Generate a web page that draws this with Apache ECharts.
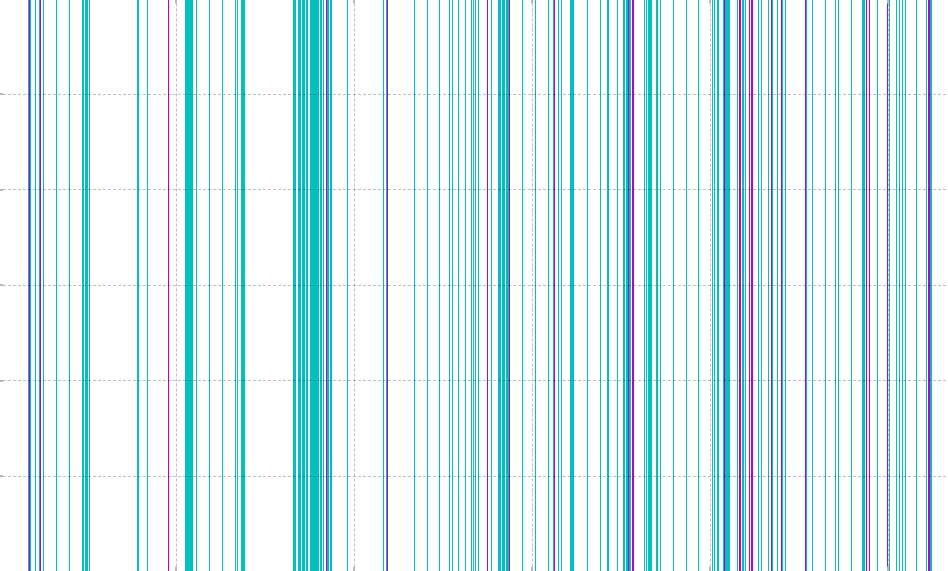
<!DOCTYPE html>
<html>
<head>
<meta charset="utf-8">
<script src="https://cdn.jsdelivr.net/npm/echarts@6/dist/echarts.min.js"></script>
<style>
html,body{margin:0;padding:0;background:#fff;}
#chart{width:948px;height:571px;}
</style>
</head>
<body>
<div id="chart"></div>
<script>
// Event positions (x units) — cyan series
const cyanEvents = [
  30, 32, 37, 41, 45, 58, 71, 84, 85, 87, 88, 89, 91, 139, 140, 149,
  187, 188, 189, 190, 191, 192, 193, 194, 198, 211, 224, 237, 239, 243, 244, 245, 246,
  295, 296, 297, 300, 301, 302, 304, 305, 306, 308, 309,
  312, 313, 314, 315, 316, 317, 318, 319, 320, 322, 323, 325, 329, 330, 332, 333, 349, 385, 388,
  416, 429, 441, 451, 454, 460, 467, 473, 475, 477, 480, 493,
  500, 501, 502, 504, 505, 506, 508, 509, 510,
  524, 537, 550, 555, 560, 563, 572, 573, 574, 575, 589, 602, 609, 610, 619,
  625, 626, 628, 629, 631, 632,
  646, 648, 650, 651, 652, 653, 658, 659, 662, 675, 688, 700,
  714, 716, 719, 720, 725, 727, 728, 729, 730, 731, 739, 744, 745, 747,
  760, 763, 770, 774, 779, 784, 787, 808, 814, 827, 837, 840, 853,
  864, 865, 866, 879, 891, 898, 901, 904, 907, 918, 928, 932, 933
];
// Event positions (x units) — magenta series
const magentaEvents = [
  31, 42, 170, 328, 389, 489, 511, 556, 630, 634, 635, 726, 741, 742,
  751, 753, 754, 773, 783, 807, 868, 871, 889, 930, 931
];
// Axis ranges
const xMin = 0, xMax = 952, xInterval = 178;
const yMin = 0, yMax = 6, yInterval = 1;

const gridColor = 'rgba(0,0,0,0.25)';

function lineSeries(events, color) {
  return {
    type: 'custom',
    data: events.map(v => [v, yMax]),
    renderItem: function (params, api) {
      const top = api.coord([api.value(0), api.value(1)]);
      const bot = api.coord([api.value(0), yMin]);
      return {
        type: 'rect',
        shape: { x: Math.round(top[0]), y: top[1], width: 1, height: bot[1] - top[1] },
        style: { fill: color }
      };
    },
    silent: true,
    animation: false
  };
}

const chart = echarts.init(document.getElementById('chart'), null, { renderer: 'canvas' });
const xCommon = {
  type: 'value', min: xMin, max: xMax, interval: xInterval,
  axisLine: { show: false },
  axisLabel: { show: false },
  axisTick: { show: true, inside: true, length: 5, lineStyle: { color: '#b8b8b8', width: 2 } },
  z: 5
};
chart.setOption({
  animation: false,
  backgroundColor: '#ffffff',
  grid: { left: -2, right: -2, top: -1.5, bottom: -0.5, containLabel: false, outerBoundsMode: 'none' },
  xAxis: [
    Object.assign({}, xCommon, {
      position: 'bottom',
      splitLine: { show: true, lineStyle: { color: gridColor, width: 1, type: [3, 2] } }
    }),
    Object.assign({}, xCommon, { position: 'top', splitLine: { show: false } })
  ],
  yAxis: {
    type: 'value', min: yMin, max: yMax, interval: yInterval,
    axisLine: { show: false },
    axisLabel: { show: false },
    axisTick: { show: true, inside: true, length: 5, lineStyle: { color: '#b8b8b8', width: 2 } },
    splitLine: { show: true, lineStyle: { color: gridColor, width: 1, type: [3, 2] } },
    z: 5
  },
  series: [
    lineSeries(cyanEvents, '#00c0c0'),
    lineSeries(magentaEvents, '#c000c0')
  ]
});
</script>
</body>
</html>
